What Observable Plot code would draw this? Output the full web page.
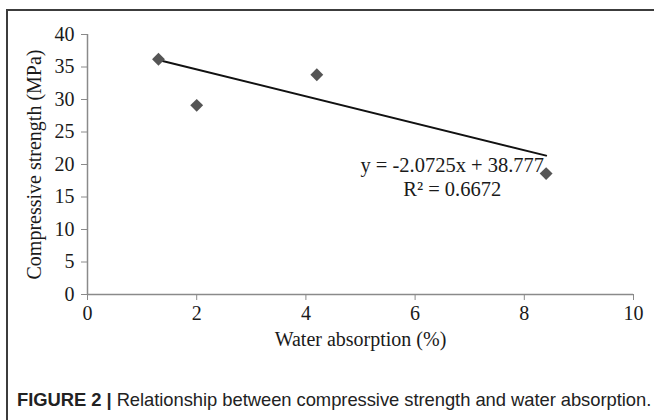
<!DOCTYPE html>
<html>
<head>
<meta charset="utf-8">
<script src="https://cdn.jsdelivr.net/npm/d3@7"></script>
<script src="https://cdn.jsdelivr.net/npm/@observablehq/plot@0.6"></script>
<style>
  html, body { margin: 0; padding: 0; background: #fff; }
  #wrap { position: relative; width: 654px; height: 420px; overflow: hidden; background: #fff; }
  #frame { position: absolute; left: 6px; top: 9px; width: 700px; height: 500px;
           border-left: 2px solid #3c3c3c; border-top: 2px solid #3c3c3c; }
  #chart { position: absolute; left: 0; top: 0; }
  #caption { position: absolute; left: 17px; top: 389px; font-family: "Liberation Sans", Arial, sans-serif;
             font-size: 18.4px; line-height: 22px; color: #222; white-space: nowrap; letter-spacing: -0.05px; }
  #caption b { font-weight: bold; }
</style>
</head>
<body>
<div id="wrap">
  <div id="frame"></div>
  <div id="chart"></div>
  <div id="caption"><b>FIGURE 2 |</b> Relationship between compressive strength and water absorption.</div>
</div>
<script>
// Data
const waterAbsorption = [1.3, 2.0, 4.2, 8.4];
const compressiveStrength = [36.2, 29.1, 33.8, 18.6];
// Trendline as stated on the chart: y = -2.0725x + 38.777
const trendSlope = -2.0725;
const trendIntercept = 38.777;
const trendRangeX = [1.3, 8.4];
const equationLines = ["y = -2.0725x + 38.777", "R\u00B2 = 0.6672"];
const xTicks = [0, 2, 4, 6, 8, 10];
const yTicks = [0, 5, 10, 15, 20, 25, 30, 35, 40];
const xLabel = "Water absorption (%)";
const yLabel = "Compressive strength (MPa)";

const points = waterAbsorption.map((x, i) => ({x, y: compressiveStrength[i]}));
const trend = trendRangeX.map(x => ({x, y: trendSlope * x + trendIntercept}));

const axisGray = "#8a8a8a";
const serif = "'Liberation Serif', 'Times New Roman', serif";

const chart = Plot.plot({
  width: 654,
  height: 372,
  marginLeft: 87,
  marginRight: 21,
  marginTop: 34,
  marginBottom: 78,
  style: { fontFamily: serif, fontSize: "20px", color: "#1a1a1a", background: "transparent", overflow: "visible" },
  x: { domain: [0, 10] },
  y: { domain: [0, 40] },
  marks: [
    Plot.ruleY([0], { stroke: axisGray, strokeWidth: 1.5 }),
    Plot.ruleX([0], { stroke: axisGray, strokeWidth: 1.5 }),
    Plot.axisX({ ticks: xTicks, tickSize: 6, stroke: axisGray, fill: "#1a1a1a", tickPadding: 5,
                 tickFormat: d => String(d), label: null, fontSize: 20 }),
    Plot.axisY({ ticks: yTicks, tickSize: 6, stroke: axisGray, fill: "#1a1a1a", tickPadding: 7,
                 tickFormat: d => String(d), label: null, fontSize: 20 }),
    Plot.text([xLabel], { frameAnchor: "bottom", dy: 45, lineAnchor: "middle", textAnchor: "middle", fontSize: 20, fill: "#1a1a1a" }),
    Plot.text([yLabel], { frameAnchor: "left", dx: -53, rotate: -90, lineAnchor: "middle", textAnchor: "middle", fontSize: 20, fill: "#1a1a1a" }),
    Plot.line(trend, { x: "x", y: "y", stroke: "#111", strokeWidth: 2 }),
    Plot.dot(points, { x: "x", y: "y", symbol: "diamond2", r: 5.8, fill: "#555555", stroke: "none" }),
    Plot.text([equationLines.join("\n")], { x: 6.68, y: 18.2, fontSize: 20.5, lineHeight: 1.2, textAnchor: "middle", fill: "#1a1a1a" })
  ]
});
document.getElementById("chart").appendChild(chart);
</script>
</body>
</html>
